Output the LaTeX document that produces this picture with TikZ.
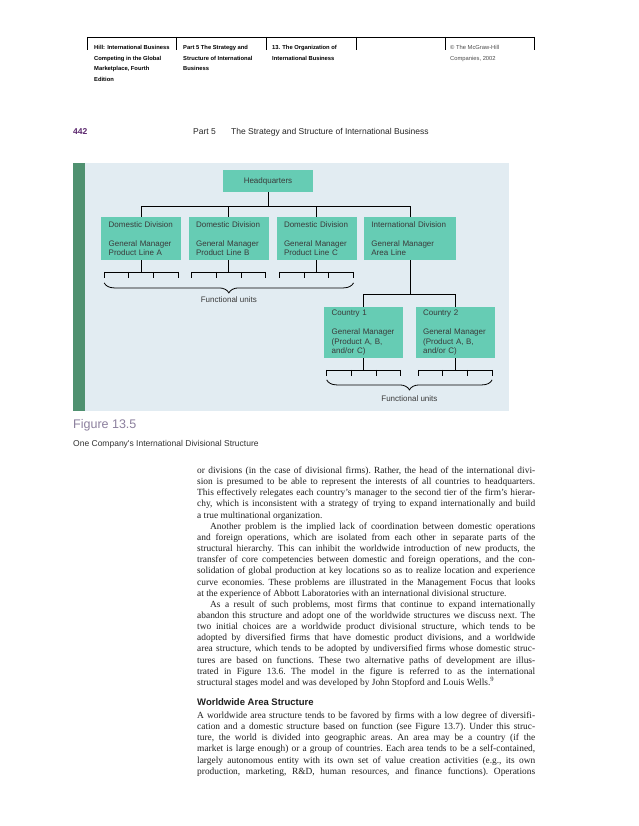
\documentclass[tikz,border=0pt]{standalone}
\usepackage{fontspec}
\setmainfont{Liberation Serif}
\newfontfamily\figsans{Liberation Sans}
\usetikzlibrary{positioning,calc,decorations.pathreplacing}

\definecolor{panelblue}{RGB}{226,236,242}
\definecolor{panelgreen}{RGB}{79,145,112}
\definecolor{boxteal}{RGB}{102,204,180}
\definecolor{figgrey}{RGB}{140,128,158}
\definecolor{pagepurple}{RGB}{92,40,110}
\definecolor{inkgrey}{RGB}{58,58,58}

% one justified row of the body text, and the last row of a paragraph
\newcommand\fullrow[1]{\hbox to 338pt{#1}}
\newcommand\lastrow[1]{\hbox to 338pt{#1\hfil}}

\tikzset{
	orgbox/.style={fill=boxteal, inner xsep=7.5pt, inner ysep=0pt, align=left,
		font=\figsans\fontsize{8}{9.5}\selectfont, text=inkgrey},
	link/.style={line width=0.8pt},
	fbrace/.style={line width=0.8pt, decorate, decoration={brace, mirror, amplitude=10pt}},
	unitlabel/.style={inner sep=0pt, font=\figsans\fontsize{8}{9.5}\selectfont, text=inkgrey},
	headcol/.style={anchor=base west, inner sep=0pt, font=\figsans\bfseries\fontsize{5.8}{10.4}\selectfont},
	pagetext/.style={anchor=base west, inner sep=0pt},
}

\begin{document}
\begin{tikzpicture}[x=1pt, y=-1pt]

		\useasboundingbox[fill=white] (0,0) rectangle (638,826);

		% Running header
		\draw[line width=0.8pt] (87,37) -- (534,37);
		\foreach \hx in {87,176,266,356,445,534}
			\draw[line width=0.8pt] (\hx,37) -- (\hx,50);

		\node[headcol] (hdbook) at (94,50) {\vtop{\hbox{Hill: International Business}\hbox{Competing in the Global}\hbox{Marketplace, Fourth}\hbox{Edition}}};
		\node[headcol] (hdpart) at (183,50) {\vtop{\hbox{Part 5 The Strategy and}\hbox{Structure of International}\hbox{Business}}};
		\node[headcol] (hdchap) at (272,50) {\vtop{\hbox{13. The Organization of}\hbox{International Business}}};
		\node[headcol, font=\figsans\fontsize{5.8}{10.4}\selectfont, text=black!70] (hdcopy) at (450,50) {\vtop{\hbox{© The McGraw-Hill}\hbox{Companies, 2002}}};

		\node[pagetext, font=\figsans\bfseries\fontsize{8.5}{10}\selectfont, text=pagepurple] (pageno) at (73,135) {442};
		\node[pagetext, font=\figsans\fontsize{8.5}{10}\selectfont, text=black!85] (runhead) at (193,135) {Part 5\hspace{1.8em}The Strategy and Structure of International Business};

		% Figure panel
		\fill[panelblue] (73,163) rectangle (509,411);
		\fill[panelgreen] (73,163) rectangle (85,411);

		% Boxes
		\node[orgbox, minimum width=90pt, minimum height=22pt, align=center] (hq) at (268,181) {Headquarters};

		\node[orgbox, anchor=north west, text width=65pt, minimum height=43pt] (divA) at (101,217)
			{Domestic Division\\[9.5pt]General Manager\\Product Line A};
		\node[orgbox, text width=65pt, minimum height=43pt, right=7pt of divA] (divB)
			{Domestic Division\\[9.5pt]General Manager\\Product Line B};
		\node[orgbox, text width=65pt, minimum height=43pt, right=7.5pt of divB] (divC)
			{Domestic Division\\[9.5pt]General Manager\\Product Line C};
		\node[orgbox, text width=77pt, minimum height=43pt, right=7pt of divC] (intl)
			{International Division\\[9.5pt]General Manager\\Area Line};

		\node[orgbox, anchor=north west, text width=64pt, minimum height=51pt] (ctry1) at (324,307)
			{Country 1\\[9.5pt]General Manager\\(Product A, B,\\and/or C)};
		\node[orgbox, text width=64pt, minimum height=51pt, right=12pt of ctry1] (ctry2)
			{Country 2\\[9.5pt]General Manager\\(Product A, B,\\and/or C)};

		% Reporting lines
		\coordinate (hqbus) at ([yshift=-14pt]hq.south);
		\draw[link] (hq.south) -- (hqbus);
		\draw[link] (divA.north) |- (hqbus) -| (intl.north);
		\draw[link] (divB.north) -- (divB.north |- hqbus);
		\draw[link] (divC.north) -- (divC.north |- hqbus);

		\coordinate (intlbus) at ([yshift=-34pt]intl.south);
		\draw[link] (intl.south) -- (intlbus);
		\draw[link] (ctry1.north) |- (intlbus) -| (ctry2.north);

		% Functional units under each box: stem, bar and four ticks
		\foreach \b in {divA,divB,divC,ctry1,ctry2} {
			\draw[link] (\b.south) -- ++(0,11.5) coordinate (\b-bar);
			\draw[link] ([xshift=-37pt]\b-bar) -- ([xshift=37pt]\b-bar);
			\foreach \k in {0,...,3} {
				\pgfmathsetmacro{\tx}{-37 + \k * 24.67}
				\draw[link] ([xshift=\tx pt]\b-bar) -- ++(0,6) coordinate (\b-t\k);
			}
		}

		% Braces
		\draw[fbrace] ([yshift=-5pt]divA-t0) -- ([yshift=-5pt]divC-t3)
			node[unitlabel, midway, below=13pt] (units1) {Functional units};
		\draw[fbrace] ([yshift=-4pt]ctry1-t0) -- ([yshift=-4pt]ctry2-t3)
			node[unitlabel, midway, below=15pt] (units2) {Functional units};

		% Caption
		\node[pagetext, font=\figsans\fontsize{12.5}{14}\selectfont, text=figgrey] (figno) at (73,428.5) {Figure 13.5};
		\node[pagetext, font=\figsans\fontsize{8.5}{10}\selectfont, text=black!80] (figcap) at (73,446) {One Company's International Divisional Structure};

		% Body text
		\node[pagetext, font=\fontsize{9.4}{11.15}\selectfont\frenchspacing, text=black!88] (body) at (197,473.5) {\vtop{%
			\fullrow{or divisions (in the case of divisional firms). Rather, the head of the international divi-}
			\fullrow{sion is presumed to be able to represent the interests of all countries to headquarters.}
			\fullrow{This effectively relegates each country's manager to the second tier of the firm's hierar-}
			\fullrow{chy, which is inconsistent with a strategy of trying to expand internationally and build}
			\lastrow{a true multinational organization.}
			\fullrow{\hskip13pt Another problem is the implied lack of coordination between domestic operations}
			\fullrow{and foreign operations, which are isolated from each other in separate parts of the}
			\fullrow{structural hierarchy. This can inhibit the worldwide introduction of new products, the}
			\fullrow{transfer of core competencies between domestic and foreign operations, and the con-}
			\fullrow{solidation of global production at key locations so as to realize location and experience}
			\fullrow{curve economies. These problems are illustrated in the Management Focus that looks}
			\lastrow{at the experience of Abbott Laboratories with an international divisional structure.}
			\fullrow{\hskip13pt As a result of such problems, most firms that continue to expand internationally}
			\fullrow{abandon this structure and adopt one of the worldwide structures we discuss next. The}
			\fullrow{two initial choices are a worldwide product divisional structure, which tends to be}
			\fullrow{adopted by diversified firms that have domestic product divisions, and a worldwide}
			\fullrow{area structure, which tends to be adopted by undiversified firms whose domestic struc-}
			\fullrow{tures are based on functions. These two alternative paths of development are illus-}
			\fullrow{trated in Figure 13.6. The model in the figure is referred to as the international}
			\lastrow{structural stages model and was developed by John Stopford and Louis Wells.\textsuperscript{9}}
			\vskip 8.95pt
			\hbox{\figsans\bfseries\fontsize{9.5}{11.15}\selectfont Worldwide Area Structure}
			\vskip 1.85pt
			\fullrow{A worldwide area structure tends to be favored by firms with a low degree of diversifi-}
			\fullrow{cation and a domestic structure based on function (see Figure 13.7). Under this struc-}
			\fullrow{ture, the world is divided into geographic areas. An area may be a country (if the}
			\fullrow{market is large enough) or a group of countries. Each area tends to be a self-contained,}
			\fullrow{largely autonomous entity with its own set of value creation activities (e.g., its own}
			\fullrow{production, marketing, R\&D, human resources, and finance functions). Operations}
		}};

	\end{tikzpicture}
\end{document}
